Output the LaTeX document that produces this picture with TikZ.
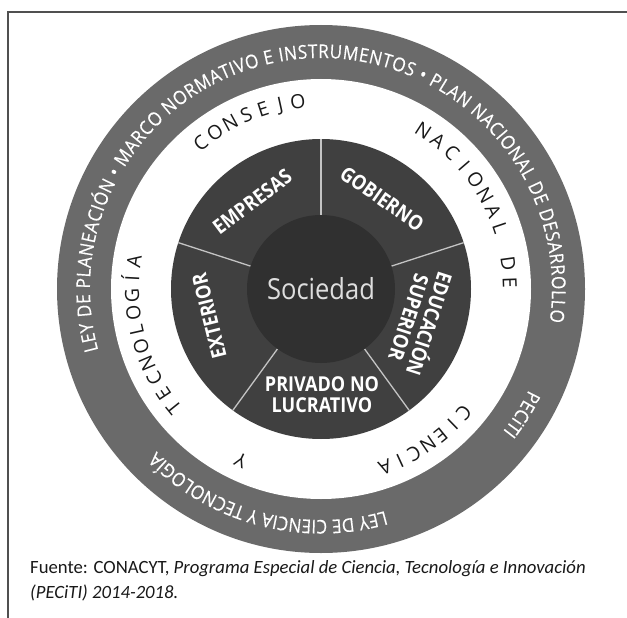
\documentclass[tikz,border=0pt]{standalone}
\usepackage{fontspec}
\setmainfont{Open Sans}
\newfontfamily\condfont[FakeStretch=0.88]{Open Sans}
\newfontfamily\outfont[FakeStretch=0.9,FakeBold=0.4]{Open Sans}
\newfontfamily\ringfont{Open Sans}
\newfontfamily\capfont{Carlito}
\usetikzlibrary{decorations.text}
\definecolor{ringgray}{HTML}{6A6A6A}
\definecolor{secgray}{HTML}{404040}
\definecolor{coregray}{HTML}{303030}
\definecolor{divgray}{HTML}{C4C4C4}
\definecolor{framegray}{HTML}{505050}
\definecolor{coretext}{HTML}{DEDEDE}
\newcommand\outerfmt{\outfont\fontsize{19}{19}\selectfont\color{white}}
\newcommand\ringword[4]{%
  \foreach \ch [count=\i from 0] in {#4} {%
    \pgfmathsetmacro\ang{#1-\i*#2}%
    \node[ringletter, rotate=\ang-90] (#3\i) at (\ang:182) {\ch};
  }}
\begin{document}
\begin{tikzpicture}[x=1pt,y=1pt,
  seclabel/.style={text=white, font=\condfont\bfseries\fontsize{20.5}{21.5}\selectfont, align=center, inner sep=0pt},
  ringletter/.style={text=black!90, font=\ringfont\fontsize{19.5}{19.5}\selectfont, inner sep=0pt, anchor=base},
  divider/.style={draw=divgray, line width=1.3pt},
  corelabel/.style={text=coretext, font=\condfont\fontsize{29}{29}\selectfont, inner sep=0pt},
  caption/.style={font=\capfont\fontsize{18.7}{18.7}\selectfont, text=black!90, inner sep=0pt, anchor=base west}]
\useasboundingbox (0,0) rectangle (627,-618);
\fill[white] (0,0) rectangle (627,-618);
\draw[framegray, line width=2pt] (627,-12) -- (8,-12) -- (8,-618);
\begin{scope}[shift={(321,-289)}]
  \fill[ringgray] (0,0) circle[radius=264];
  \fill[white] (0,0) circle[radius=210];
  \fill[secgray] (0,0) circle[radius=150];
  \foreach \a in {90,18,-54,-126,162} \draw[divider] (\a:74) -- (\a:150);
  \fill[coregray] (0,0) circle[radius=74];
  \node[corelabel] (soc) at (0,0) {Sociedad};
  \node[seclabel, rotate=37] (emp) at (128.3:111) {EMPRESAS};
  \node[seclabel, rotate=-35] (gob) at (55.9:109) {GOBIERNO};
  \node[seclabel, rotate=-108] (edu) at (-18:105) {EDUCACIÓN\\SUPERIOR};
  \node[seclabel, rotate=104] (ext) at (193.5:115) {EXTERIOR};
  \node[seclabel] (priv) at (1,-105.5) {PRIVADO NO\\LUCRATIVO};
  % white band lettering
  \ringword{129.6}{5.43}{cons}{C,O,N,S,E,J,O}
  \ringword{57.2}{5.5}{naci}{N,A,C,I,O,N,A,L}
  \ringword{7.8}{5.8}{de}{D,E}
  \ringword{-40.9}{4.88}{cien}{C,I,E,N,C,I,A}
  \ringword{-115.1}{5}{yy}{Y}
  \ringword{218.8}{5.24}{tecn}{T,E,C,N,O,L,O,G,Í,A}
  % outer ring lettering
  \path[decorate, decoration={text along path, text align={fit to path},
    text={|\outerfmt|LEY DE PLANEACIÓN • MARCO NORMATIVO E INSTRUMENTOS • PLAN NACIONAL DE DESARROLLO}}]
    (195.4:231) arc[start angle=195.4, end angle=-8.2, radius=231pt];
  \path[decorate, decoration={text along path, text align=center,
    text={|\outerfmt|PECiTI}}]
    (-20:231) arc[start angle=-20, end angle=-44, radius=231pt];
  \path[decorate, decoration={text along path, text align=center,
    text={|\outerfmt|LEY DE CIENCIA Y TECNOLOGÍA}}]
    (-60.6:231) arc[start angle=-60.6, end angle=-148.6, radius=231pt];
\end{scope}
\node[caption] (cap1) at (30,-573) {Fuente: CONACYT, \textit{Programa Especial de Ciencia, Tecnología e Innovación}};
\node[caption] (cap2) at (30,-598) {\textit{(PECiTI) 2014-2018.}};
\end{tikzpicture}
\end{document}
